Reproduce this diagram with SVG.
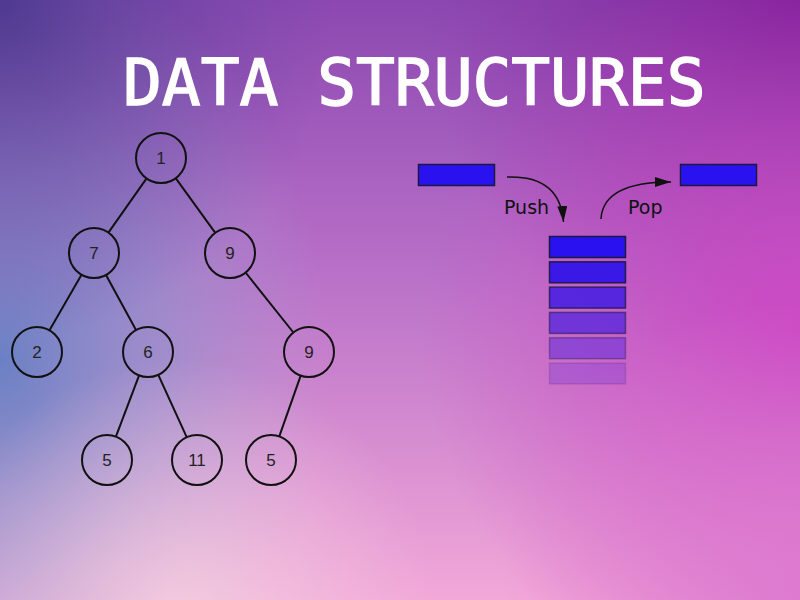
<svg xmlns="http://www.w3.org/2000/svg" width="800" height="600" viewBox="0 0 800 600">
<defs>
<linearGradient id="base" x1="0" y1="0" x2="0" y2="1">
<stop offset="0" stop-color="#8c48b0"/>
<stop offset="0.45" stop-color="#b870c8"/>
<stop offset="1" stop-color="#f2a8d8"/>
</linearGradient>
<radialGradient id="gBlue" cx="0" cy="360" r="330" gradientUnits="userSpaceOnUse" gradientTransform="translate(0,360) scale(1,1.25) translate(0,-360)">
<stop offset="0" stop-color="#6a80c4" stop-opacity="1"/>
<stop offset="0.5" stop-color="#8a96cc" stop-opacity="0.6"/>
<stop offset="1" stop-color="#a8a0d0" stop-opacity="0"/>
</radialGradient>
<radialGradient id="gTL" cx="0" cy="0" r="340" gradientUnits="userSpaceOnUse">
<stop offset="0" stop-color="#4e3a90" stop-opacity="1"/>
<stop offset="1" stop-color="#6a4aa8" stop-opacity="0"/>
</radialGradient>
<radialGradient id="gTR" cx="800" cy="0" r="380" gradientUnits="userSpaceOnUse">
<stop offset="0" stop-color="#7e1e98" stop-opacity="1"/>
<stop offset="1" stop-color="#8a30a8" stop-opacity="0"/>
</radialGradient>
<radialGradient id="gR" cx="800" cy="330" r="380" gradientUnits="userSpaceOnUse">
<stop offset="0" stop-color="#cc48c4" stop-opacity="1"/>
<stop offset="1" stop-color="#cc50c4" stop-opacity="0"/>
</radialGradient>
<radialGradient id="gBL" cx="180" cy="620" r="260" gradientUnits="userSpaceOnUse">
<stop offset="0" stop-color="#f6d0e0" stop-opacity="0.9"/>
<stop offset="1" stop-color="#f0c8e0" stop-opacity="0"/>
</radialGradient>
<radialGradient id="gBR" cx="800" cy="600" r="300" gradientUnits="userSpaceOnUse">
<stop offset="0" stop-color="#dc78d0" stop-opacity="0.9"/>
<stop offset="1" stop-color="#e080d0" stop-opacity="0"/>
</radialGradient>
<marker id="arrow" viewBox="0 0 16 10" refX="16" refY="5" markerWidth="16" markerHeight="10" markerUnits="userSpaceOnUse" orient="auto">
<path d="M0,0 L16,5 L0,10 Z" fill="#111"/>
</marker>
<style>
.node circle { fill: none; stroke: #111; stroke-width: 2; }
.node text { font-family: "Liberation Sans", Arial, sans-serif; font-size: 17px; fill: #222; text-anchor: middle; }
.edge { stroke: #111; stroke-width: 2; fill: none; }
.lbl { font-family: "DejaVu Sans", sans-serif; font-size: 19px; fill: #111; }
.blk { stroke: #1a1a40; stroke-width: 1.5; }
.title { font-family: "DejaVu Sans Mono", monospace; font-weight: normal; font-size: 64.5px; fill: #ffffff; stroke: #ffffff; stroke-width: 1.5; }
</style>
</defs>

<g id="background">
<rect x="0" y="0" width="800" height="600" fill="url(#base)"/>
<rect x="0" y="0" width="800" height="600" fill="url(#gBlue)"/>
<rect x="0" y="0" width="800" height="600" fill="url(#gTL)"/>
<rect x="0" y="0" width="800" height="600" fill="url(#gTR)"/>
<rect x="0" y="0" width="800" height="600" fill="url(#gR)"/>
<rect x="0" y="0" width="800" height="600" fill="url(#gBR)"/>
<rect x="0" y="0" width="800" height="600" fill="url(#gBL)"/>
</g>

<g id="title">
<text class="title" x="123" y="105">DATA STRUCTURES</text>
</g>

<g id="connectors">
<line class="edge" x1="146.6" y1="178.4" x2="108.4" y2="232.6"/>
<line class="edge" x1="175.7" y1="178.2" x2="215.3" y2="232.8"/>
<line class="edge" x1="81.5" y1="274.7" x2="49.5" y2="330.3"/>
<line class="edge" x1="106" y1="274.9" x2="136" y2="330.1"/>
<line class="edge" x1="245.6" y1="272.5" x2="293.4" y2="332.5"/>
<line class="edge" x1="139.1" y1="375.4" x2="115.9" y2="436.6"/>
<line class="edge" x1="158.3" y1="374.8" x2="186.7" y2="437.2"/>
<line class="edge" x1="300.7" y1="375.6" x2="279.3" y2="436.4"/>
<path id="push-arrow" d="M507,177 Q560,175 563.5,222" fill="none" stroke="#111" stroke-width="1.5" marker-end="url(#arrow)"/>
<path id="pop-arrow" d="M601,219 Q603,182 671,182" fill="none" stroke="#111" stroke-width="1.5" marker-end="url(#arrow)"/>
</g>

<g id="n1" class="node"><circle cx="161" cy="158" r="25"/><text x="161" y="164">1</text></g>
<g id="n7" class="node"><circle cx="94" cy="253" r="25"/><text x="94" y="259">7</text></g>
<g id="n9a" class="node"><circle cx="230" cy="253" r="25"/><text x="230" y="259">9</text></g>
<g id="n2" class="node"><circle cx="37" cy="352" r="25"/><text x="37" y="358">2</text></g>
<g id="n6" class="node"><circle cx="148" cy="352" r="25"/><text x="148" y="358">6</text></g>
<g id="n9b" class="node"><circle cx="309" cy="352" r="25"/><text x="309" y="358">9</text></g>
<g id="n5a" class="node"><circle cx="107" cy="460" r="25"/><text x="107" y="466">5</text></g>
<g id="n11" class="node"><circle cx="197" cy="460" r="25"/><text x="197" y="466">11</text></g>
<g id="n5b" class="node"><circle cx="271" cy="460" r="25"/><text x="271" y="466">5</text></g>

<g id="push-item"><rect class="blk" x="418.5" y="164.5" width="76" height="21" fill="#2a12f0"/></g>
<g id="pop-item"><rect class="blk" x="680.5" y="164.5" width="76" height="21" fill="#2a12f0"/></g>

<g id="stack">
<rect class="blk" x="549.5" y="236.5" width="76" height="21" fill="#2a12f0"/>
<rect class="blk" x="549.5" y="261.8" width="76" height="21" fill="#3a18e6" stroke-opacity="0.9"/>
<rect class="blk" x="549.5" y="287.1" width="76" height="21" fill="#4a20e0" fill-opacity="0.9" stroke-opacity="0.75"/>
<rect class="blk" x="549.5" y="312.4" width="76" height="21" fill="#5a28dc" fill-opacity="0.8" stroke-opacity="0.55"/>
<rect class="blk" x="549.5" y="337.7" width="76" height="21" fill="#6a30da" fill-opacity="0.6" stroke-opacity="0.35"/>
<rect class="blk" x="549.5" y="363" width="76" height="21" fill="#7a3ad8" fill-opacity="0.35" stroke-opacity="0.15"/>
</g>

<g id="labels">
<text class="lbl" x="504" y="214">Push</text>
<text class="lbl" x="628" y="214">Pop</text>
</g>
</svg>
